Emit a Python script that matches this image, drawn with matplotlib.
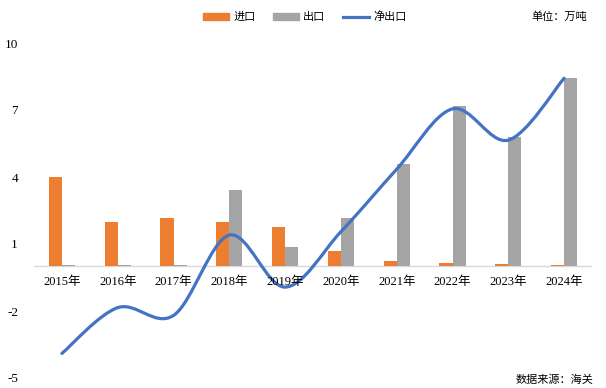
import matplotlib
matplotlib.use("Agg")
from matplotlib import pyplot as plt
from matplotlib.path import Path
from matplotlib.patches import PathPatch
from matplotlib.lines import Line2D
import numpy as np

years = ["2015年", "2016年", "2017年", "2018年", "2019年", "2020年", "2021年", "2022年", "2023年", "2024年"]
imports = [4.0, 1.97, 2.15, 1.97, 1.75, 0.67, 0.22, 0.15, 0.1, 0.05]
exports = [0.04, 0.04, 0.04, 3.4, 0.85, 2.15, 4.6, 7.2, 5.8, 8.43]
net = [-3.9, -1.85, -2.2, 1.4, -0.93, 1.55, 4.35, 7.05, 5.65, 8.42]
yticks = [-5, -2, 1, 4, 7, 10]

c_imp = "#ED7D31"
c_exp = "#A5A5A5"
c_net = "#4472C4"
serif = ["Liberation Serif", "Noto Sans CJK SC"]
cjk = ["Noto Sans CJK SC", "DejaVu Sans"]

fig = plt.figure(figsize=(6.06, 3.88), dpi=100)
ax = fig.add_axes([34 / 606, 10 / 388, 558 / 606, 335 / 388])

x = np.arange(len(years))
w = 0.235
ax.bar(x - w / 2, imports, w, color=c_imp, zorder=2)
ax.bar(x + w / 2, exports, w, color=c_exp, zorder=2)
ax.axhline(0, color="#D9D9D9", lw=1, zorder=1)

# smoothed line (Catmull-Rom as bezier segments)
pts = np.column_stack([x, net]).astype(float)
ext = np.vstack([pts[0], pts, pts[-1]])
verts = [tuple(pts[0])]
codes = [Path.MOVETO]
for i in range(len(pts) - 1):
    p0, p1, p2, p3 = ext[i], ext[i + 1], ext[i + 2], ext[i + 3]
    c1 = p1 + (p2 - p0) / 6
    c2 = p2 - (p3 - p1) / 6
    verts += [tuple(c1), tuple(c2), tuple(p2)]
    codes += [Path.CURVE4] * 3
ax.add_patch(PathPatch(Path(verts, codes), fill=False, edgecolor=c_net, lw=2.3,
                       capstyle="round", zorder=3))

ax.set_xlim(-0.5, len(years) - 0.5)
ax.set_ylim(-5, 10)
ax.set_yticks(yticks)
ax.set_yticklabels([str(t) for t in yticks], family=serif, fontsize=9.5)
ax.tick_params(axis="y", length=0, pad=11.5)
ax.set_xticks([])
for s in ax.spines.values():
    s.set_visible(False)

for xi, lab in zip(x, years):
    ax.text(xi, -0.68, lab, ha="center", va="center", family=serif, fontsize=9)

handles = [
    plt.Rectangle((0, 0), 1, 1, color=c_imp),
    plt.Rectangle((0, 0), 1, 1, color=c_exp),
    Line2D([0], [0], color=c_net, lw=2.3),
]
fig.legend(handles, ["进口", "出口", "净出口"], loc="center", ncol=3,
           bbox_to_anchor=(305 / 606, 1 - 17 / 388), frameon=False,
           prop={"family": cjk, "size": 8}, handlelength=2.3, handleheight=0.6,
           columnspacing=1.6, handletextpad=0.4)

fig.text(587 / 606, 1 - 17 / 388, "单位：万吨", ha="right", va="center",
         family=cjk, fontsize=8)
fig.text(593 / 606, 1 - 380 / 388, "数据来源：海关", ha="right", va="center",
         family=cjk, fontsize=8)

fig.savefig("out.png", dpi=100)
